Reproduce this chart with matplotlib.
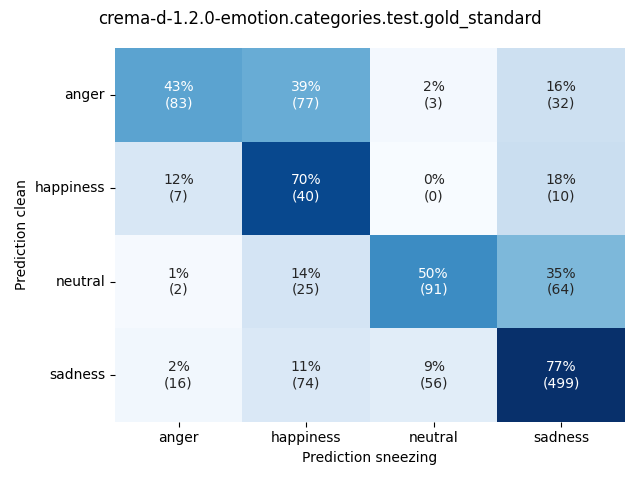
import numpy as np
import matplotlib
matplotlib.use('Agg')
import matplotlib.pyplot as plt
import seaborn as sns

labels = ['anger', 'happiness', 'neutral', 'sadness']

# counts, rows = Prediction clean, columns = Prediction sneezing
counts_anger = [83, 77, 3, 32]
counts_happiness = [7, 40, 0, 10]
counts_neutral = [2, 25, 91, 64]
counts_sadness = [16, 74, 56, 499]

counts = np.array([counts_anger, counts_happiness, counts_neutral, counts_sadness])
frac = counts / counts.sum(axis=1, keepdims=True)

annot = np.empty(counts.shape, dtype=object)
for i in range(counts.shape[0]):
    for j in range(counts.shape[1]):
        annot[i, j] = '%d%%\n(%d)' % (round(frac[i, j] * 100), counts[i, j])

fig, ax = plt.subplots(figsize=(6.4, 4.8))
sns.heatmap(frac, annot=annot, fmt='', cmap='Blues', cbar=False,
            xticklabels=labels, yticklabels=labels, ax=ax)
ax.set_xlabel('Prediction sneezing')
ax.set_ylabel('Prediction clean')
ax.tick_params(axis='y', rotation=0)
fig.suptitle('crema-d-1.2.0-emotion.categories.test.gold_standard')
fig.tight_layout()
fig.savefig('out.png', dpi=100)
plt.close()
